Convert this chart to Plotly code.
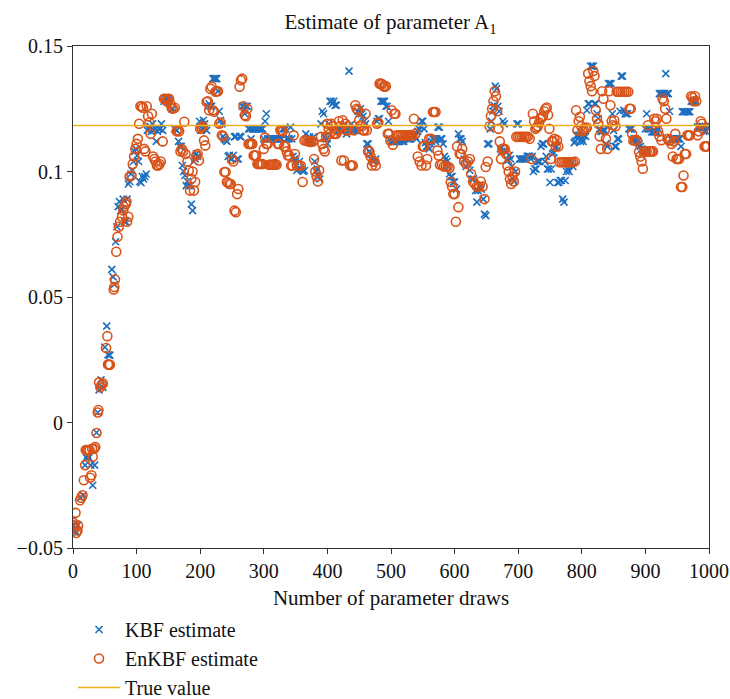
import plotly.graph_objects as go

# Parameter draws and the resulting estimates of A1
kbf_draw = [
    1, 3, 5, 7, 12, 16, 19, 21, 23, 25, 28, 31, 34, 37, 39, 41, 44, 47, 50, 53,
    55, 57, 58, 61, 63, 65, 67, 69, 71, 73, 75, 77, 79, 81, 83, 85, 87, 89, 91, 93,
    95, 97, 99, 101, 103, 105, 107, 109, 111, 113, 115, 117, 119, 121, 123, 125, 127, 129, 131, 133,
    135, 137, 139, 141, 143, 145, 147, 149, 151, 153, 155, 157, 160, 163, 166, 168, 170, 172, 174, 176,
    178, 180, 182, 184, 186, 188, 190, 192, 194, 196, 199, 201, 203, 205, 207, 210, 212, 214, 216, 218,
    220, 222, 224, 226, 228, 230, 232, 234, 236, 238, 240, 242, 244, 246, 248, 250, 252, 254, 256, 258,
    260, 262, 264, 266, 268, 270, 272, 274, 276, 278, 280, 282, 284, 286, 288, 290, 292, 294, 296, 298,
    300, 302, 304, 306, 308, 310, 312, 314, 316, 318, 320, 322, 324, 326, 328, 330, 332, 334, 336, 338,
    340, 342, 344, 346, 348, 350, 352, 354, 356, 358, 360, 362, 364, 366, 368, 370, 372, 374, 376, 378,
    380, 382, 384, 386, 388, 390, 392, 394, 396, 398, 400, 402, 404, 406, 408, 410, 412, 414, 416, 418,
    420, 422, 424, 426, 428, 430, 432, 434, 436, 438, 440, 442, 444, 446, 448, 450, 452, 454, 456, 458,
    460, 462, 464, 466, 468, 470, 472, 474, 476, 478, 480, 482, 484, 486, 488, 490, 492, 494, 496, 498,
    500, 502, 504, 506, 508, 510, 512, 514, 516, 518, 520, 522, 524, 526, 528, 530, 532, 534, 536, 538,
    540, 542, 544, 546, 548, 550, 552, 554, 556, 558, 560, 562, 564, 566, 568, 570, 572, 574, 576, 578,
    580, 582, 584, 586, 588, 590, 592, 594, 596, 598, 600, 603, 606, 608, 610, 612, 615, 618, 621, 624,
    627, 630, 633, 635, 637, 640, 642, 645, 647, 649, 652, 654, 656, 658, 660, 662, 664, 666, 668, 670,
    672, 674, 676, 678, 680, 682, 684, 686, 688, 690, 692, 694, 696, 698, 700, 702, 704, 706, 708, 710,
    712, 714, 716, 718, 720, 722, 724, 726, 728, 730, 732, 734, 736, 738, 740, 742, 744, 746, 748, 750,
    752, 754, 756, 758, 760, 762, 764, 766, 768, 770, 772, 774, 776, 778, 780, 782, 784, 786, 788, 790,
    792, 794, 796, 798, 800, 802, 804, 806, 808, 810, 812, 814, 816, 818, 820, 822, 824, 826, 828, 830,
    832, 834, 836, 838, 840, 842, 844, 846, 848, 850, 852, 854, 856, 858, 860, 862, 864, 866, 868, 870,
    872, 874, 876, 878, 880, 882, 884, 886, 888, 890, 892, 894, 896, 898, 900, 902, 904, 906, 908, 910,
    912, 914, 916, 918, 920, 922, 924, 926, 928, 930, 932, 934, 936, 938, 940, 942, 944, 946, 948, 950,
    952, 954, 956, 958, 960, 962, 964, 966, 968, 970, 972, 974, 976, 978, 980, 982, 984, 986, 988, 990,
    992, 994, 996, 998,
]
kbf_value = [
    -0.041, -0.043, -0.044, -0.041, -0.030, -0.029, -0.017, -0.014, -0.013, -0.014, -0.017, -0.025, -0.017, -0.004, 0.004, 0.013, 0.017, 0.014, 0.030, 0.0384,
    0.027, 0.0268, 0.0268, 0.061, 0.058, 0.055, 0.072, 0.078, 0.086, 0.088, 0.0844, 0.085, 0.089, 0.080, 0.080, 0.089, 0.095, 0.096, 0.099, 0.1004,
    0.104, 0.108, 0.109, 0.1064, 0.104, 0.096, 0.0955, 0.098, 0.097, 0.098, 0.099, 0.1164, 0.117, 0.118, 0.116, 0.119, 0.1164, 0.117, 0.112, 0.116,
    0.117, 0.117, 0.119, 0.1164, 0.128, 0.129, 0.129, 0.128, 0.129, 0.128, 0.125, 0.125, 0.117, 0.1164, 0.112, 0.110, 0.110, 0.1024, 0.100, 0.0984,
    0.0944, 0.096, 0.0944, 0.0944, 0.087, 0.0844, 0.104, 0.105, 0.107, 0.106, 0.120, 0.1164, 0.117, 0.1204, 0.119, 0.1164, 0.126, 0.127, 0.126, 0.126,
    0.137, 0.137, 0.137, 0.137, 0.132, 0.124, 0.1204, 0.119, 0.114, 0.113, 0.1125, 0.112, 0.106, 0.1064, 0.105, 0.105, 0.1064, 0.1138, 0.114, 0.105,
    0.105, 0.114, 0.1138, 0.126, 0.126, 0.123, 0.126, 0.126, 0.117, 0.117, 0.113, 0.117, 0.117, 0.117, 0.117, 0.117, 0.117, 0.117, 0.117, 0.117,
    0.113, 0.120, 0.123, 0.113, 0.113, 0.113, 0.113, 0.113, 0.113, 0.113, 0.113, 0.113, 0.113, 0.113, 0.113, 0.117, 0.117, 0.117, 0.113, 0.113,
    0.113, 0.1177, 0.113, 0.106, 0.105, 0.104, 0.1004, 0.101, 0.104, 0.101, 0.1006, 0.100, 0.1004, 0.115, 0.112, 0.112, 0.1138, 0.112, 0.112, 0.1138,
    0.104, 0.100, 0.101, 0.098, 0.097, 0.119, 0.124, 0.123, 0.1138, 0.113, 0.111, 0.119, 0.128, 0.128, 0.127, 0.128, 0.1264, 0.1264, 0.1164, 0.1164,
    0.1164, 0.1164, 0.1164, 0.118, 0.117, 0.115, 0.1164, 0.140, 0.1164, 0.119, 0.1164, 0.1164, 0.1164, 0.1164, 0.124, 0.123, 0.125, 0.123, 0.122, 0.120,
    0.119, 0.111, 0.111, 0.108, 0.107, 0.1045, 0.104, 0.1045, 0.105, 0.120, 0.121, 0.121, 0.128, 0.128, 0.128, 0.128, 0.126, 0.126, 0.120, 0.113,
    0.112, 0.112, 0.112, 0.113, 0.112, 0.112, 0.112, 0.112, 0.113, 0.112, 0.112, 0.113, 0.114, 0.113, 0.113, 0.113, 0.1144, 0.1144, 0.1144, 0.114,
    0.113, 0.116, 0.117, 0.118, 0.120, 0.120, 0.117, 0.1115, 0.110, 0.110, 0.109, 0.111, 0.112, 0.113, 0.113, 0.112, 0.113, 0.1177, 0.1177, 0.113,
    0.113, 0.111, 0.106, 0.105, 0.104, 0.102, 0.099, 0.098, 0.098, 0.0958, 0.0958, 0.093, 0.115, 0.113, 0.113, 0.112, 0.105, 0.102, 0.103, 0.1005,
    0.097, 0.097, 0.0924, 0.0878, 0.0924, 0.0944, 0.093, 0.089, 0.083, 0.0824, 0.111, 0.111, 0.117, 0.120, 0.124, 0.1264, 0.134, 0.133, 0.126, 0.124,
    0.109, 0.108, 0.120, 0.119, 0.108, 0.1045, 0.1045, 0.1064, 0.105, 0.102, 0.097, 0.096, 0.100, 0.119, 0.119, 0.105, 0.105, 0.105, 0.105, 0.105,
    0.105, 0.106, 0.106, 0.106, 0.105, 0.106, 0.100, 0.101, 0.101, 0.104, 0.104, 0.104, 0.110, 0.111, 0.111, 0.104, 0.106, 0.101, 0.101, 0.0956,
    0.101, 0.107, 0.1075, 0.1095, 0.110, 0.0956, 0.0956, 0.0964, 0.0964, 0.089, 0.0878, 0.0964, 0.100, 0.101, 0.100, 0.104, 0.1035, 0.102, 0.1115, 0.112,
    0.1144, 0.1144, 0.1144, 0.112, 0.113, 0.112, 0.1144, 0.114, 0.1244, 0.127, 0.127, 0.142, 0.142, 0.142, 0.127, 0.127, 0.123, 0.121, 0.117, 0.116,
    0.116, 0.1164, 0.1164, 0.111, 0.110, 0.135, 0.135, 0.135, 0.123, 0.1164, 0.110, 0.110, 0.113, 0.113, 0.124, 0.138, 0.138, 0.1244, 0.123, 0.123,
    0.123, 0.117, 0.117, 0.117, 0.1125, 0.113, 0.113, 0.112, 0.112, 0.111, 0.110, 0.109, 0.108, 0.108, 0.117, 0.123, 0.117, 0.117, 0.117, 0.1158,
    0.1158, 0.1158, 0.1158, 0.1158, 0.117, 0.131, 0.131, 0.131, 0.131, 0.131, 0.139, 0.131, 0.131, 0.124, 0.113, 0.113, 0.113, 0.113, 0.113, 0.113,
    0.113, 0.113, 0.110, 0.1238, 0.1238, 0.1238, 0.1238, 0.1238, 0.1238, 0.1238, 0.128, 0.128, 0.128, 0.128, 0.128, 0.1177, 0.1177, 0.1177, 0.1177, 0.118,
    0.116, 0.118, 0.116, 0.118,
]

enkbf_draw = [
    1, 2, 3, 4, 5, 7, 8, 11, 13, 15, 17, 19, 20, 22, 24, 26, 27, 29, 30, 31,
    33, 35, 37, 39, 40, 41, 43, 45, 47, 52, 54, 55, 56, 57, 58, 64, 65, 66, 68, 70,
    72, 74, 77, 79, 80, 83, 84, 85, 87, 89, 92, 94, 96, 98, 100, 102, 104, 106, 108, 110,
    112, 114, 116, 118, 120, 122, 124, 126, 128, 130, 132, 134, 136, 138, 141, 143, 145, 147, 149, 151,
    153, 155, 157, 160, 163, 165, 167, 169, 171, 173, 175, 177, 180, 182, 184, 186, 188, 190, 192, 194,
    196, 198, 200, 202, 204, 206, 208, 210, 212, 214, 216, 218, 220, 222, 224, 226, 228, 230, 232, 234,
    236, 238, 240, 242, 244, 246, 248, 250, 252, 254, 256, 258, 260, 262, 264, 266, 268, 270, 272, 274,
    276, 278, 280, 282, 284, 286, 288, 290, 292, 294, 296, 298, 300, 302, 304, 306, 308, 310, 312, 314,
    316, 318, 320, 322, 324, 326, 328, 330, 332, 334, 336, 338, 340, 343, 345, 347, 349, 352, 355, 358,
    361, 364, 367, 370, 372, 374, 377, 379, 381, 383, 385, 387, 390, 392, 394, 396, 398, 400, 402, 404,
    406, 408, 410, 412, 414, 416, 418, 420, 422, 424, 426, 428, 430, 432, 434, 436, 438, 440, 442, 444,
    446, 448, 450, 452, 454, 456, 458, 460, 462, 464, 466, 468, 470, 472, 474, 476, 478, 480, 482, 484,
    486, 488, 490, 492, 495, 497, 499, 501, 503, 505, 507, 509, 512, 515, 518, 521, 524, 527, 530, 533,
    536, 538, 542, 545, 548, 550, 552, 555, 557, 560, 563, 566, 568, 570, 573, 575, 577, 580, 583, 586,
    589, 592, 594, 596, 598, 600, 602, 604, 606, 608, 610, 612, 615, 618, 621, 624, 626, 629, 632, 635,
    638, 641, 644, 647, 649, 652, 655, 657, 659, 661, 663, 665, 667, 669, 671, 673, 675, 677, 679, 681,
    683, 685, 687, 689, 691, 693, 695, 697, 700, 703, 706, 709, 712, 715, 718, 721, 723, 725, 727, 729,
    731, 733, 735, 737, 739, 741, 743, 745, 747, 749, 751, 753, 755, 757, 759, 761, 763, 765, 768, 771,
    774, 777, 780, 783, 786, 789, 791, 793, 795, 797, 799, 801, 803, 806, 808, 810, 812, 814, 816, 818,
    820, 822, 824, 826, 828, 830, 832, 834, 836, 838, 840, 843, 845, 847, 849, 851, 853, 855, 858, 861,
    864, 867, 870, 873, 875, 877, 879, 881, 884, 887, 890, 892, 894, 896, 898, 900, 902, 904, 906, 908,
    910, 912, 914, 916, 918, 920, 922, 925, 927, 929, 931, 933, 935, 937, 939, 941, 943, 945, 947, 949,
    951, 953, 956, 958, 960, 962, 964, 966, 968, 970, 972, 974, 976, 978, 980, 982, 984, 987, 989, 991,
    993, 995, 997,
]
enkbf_value = [
    -0.040, -0.041, -0.042, -0.036, -0.044, -0.043, -0.041, -0.031, -0.030, -0.029, -0.023, -0.017, -0.011, -0.011, -0.011, -0.011, -0.022, -0.021, -0.0105, -0.0136,
    -0.0105, -0.0098, -0.0042, 0.004, 0.005, 0.016, 0.014, 0.015, 0.0155, 0.0297, 0.0344, 0.0231, 0.0231, 0.023, 0.023, 0.053, 0.054, 0.057, 0.068, 0.074,
    0.078, 0.080, 0.082, 0.0845, 0.086, 0.087, 0.088, 0.080, 0.082, 0.098, 0.0984, 0.103, 0.106, 0.109, 0.111, 0.113, 0.119, 0.126, 0.126, 0.1254,
    0.109, 0.108, 0.126, 0.122, 0.1195, 0.115, 0.123, 0.106, 0.105, 0.104, 0.1024, 0.1024, 0.103, 0.104, 0.112, 0.129, 0.129, 0.128, 0.129, 0.129,
    0.127, 0.1254, 0.125, 0.1254, 0.116, 0.1164, 0.116, 0.108, 0.109, 0.108, 0.1198, 0.107, 0.104, 0.1004, 0.0924, 0.097, 0.100, 0.0924, 0.0958, 0.1064,
    0.107, 0.1044, 0.117, 0.1175, 0.118, 0.1124, 0.1104, 0.1277, 0.128, 0.1244, 0.133, 0.1338, 0.1244, 0.1238, 0.1318, 0.132, 0.132, 0.119, 0.1195, 0.1144,
    0.114, 0.0998, 0.0998, 0.0958, 0.0955, 0.095, 0.095, 0.105, 0.104, 0.0844, 0.0838, 0.091, 0.093, 0.1338, 0.1364, 0.137, 0.126, 0.1224, 0.122, 0.125,
    0.111, 0.111, 0.111, 0.111, 0.1064, 0.1064, 0.1064, 0.103, 0.103, 0.103, 0.103, 0.103, 0.109, 0.1135, 0.111, 0.111, 0.1027, 0.1027, 0.1027, 0.1027,
    0.1027, 0.103, 0.1027, 0.111, 0.111, 0.1164, 0.1164, 0.116, 0.110, 0.110, 0.108, 0.1064, 0.1064, 0.1024, 0.1024, 0.1144, 0.107, 0.1024, 0.1024, 0.1024,
    0.0958, 0.1124, 0.1124, 0.112, 0.112, 0.1118, 0.112, 0.105, 0.100, 0.098, 0.096, 0.1005, 0.1138, 0.111, 0.109, 0.108, 0.1138, 0.119, 0.117, 0.115,
    0.119, 0.118, 0.115, 0.115, 0.115, 0.1164, 0.120, 0.118, 0.1044, 0.1204, 0.1044, 0.119, 0.1164, 0.118, 0.1164, 0.1024, 0.1024, 0.1024, 0.1164, 0.1264,
    0.125, 0.1245, 0.1204, 0.1184, 0.118, 0.1164, 0.1164, 0.123, 0.1164, 0.108, 0.108, 0.106, 0.1024, 0.104, 0.104, 0.1024, 0.119, 0.1195, 0.135, 0.135,
    0.1348, 0.134, 0.1338, 0.134, 0.115, 0.115, 0.1124, 0.1244, 0.1107, 0.123, 0.123, 0.1144, 0.1144, 0.1144, 0.1144, 0.1144, 0.1144, 0.1144, 0.1144, 0.1144,
    0.121, 0.115, 0.106, 0.104, 0.1024, 0.110, 0.110, 0.1024, 0.105, 0.113, 0.113, 0.1237, 0.1237, 0.1237, 0.1084, 0.1064, 0.1027, 0.1027, 0.102, 0.102,
    0.102, 0.1015, 0.0958, 0.094, 0.091, 0.091, 0.080, 0.110, 0.0858, 0.107, 0.107, 0.109, 0.104, 0.103, 0.104, 0.105, 0.099, 0.096, 0.095, 0.094,
    0.094, 0.096, 0.094, 0.089, 0.1018, 0.104, 0.118, 0.122, 0.125, 0.128, 0.132, 0.130, 0.124, 0.117, 0.112, 0.105, 0.109, 0.109, 0.109, 0.107,
    0.1024, 0.100, 0.097, 0.095, 0.098, 0.096, 0.100, 0.1138, 0.1138, 0.1138, 0.1138, 0.1138, 0.1138, 0.1138, 0.113, 0.105, 0.123, 0.120, 0.117, 0.1175,
    0.118, 0.1195, 0.121, 0.1215, 0.122, 0.124, 0.125, 0.1255, 0.1225, 0.117, 0.105, 0.112, 0.112, 0.113, 0.110, 0.1125, 0.110, 0.1037, 0.1037, 0.1037,
    0.1037, 0.1037, 0.1037, 0.1037, 0.1037, 0.104, 0.1244, 0.1164, 0.120, 0.1218, 0.118, 0.116, 0.1165, 0.117, 0.1175, 0.139, 0.136, 0.134, 0.132, 0.140,
    0.138, 0.1244, 0.121, 0.119, 0.114, 0.109, 0.132, 0.129, 0.1164, 0.113, 0.109, 0.132, 0.1264, 0.120, 0.1184, 0.1204, 0.118, 0.1318, 0.1318, 0.1318,
    0.1318, 0.1318, 0.1318, 0.1318, 0.125, 0.125, 0.115, 0.1124, 0.1124, 0.1124, 0.1078, 0.106, 0.104, 0.1011, 0.108, 0.108, 0.108, 0.1184, 0.108, 0.108,
    0.108, 0.108, 0.121, 0.120, 0.121, 0.116, 0.114, 0.1125, 0.129, 0.128, 0.125, 0.121, 0.113, 0.1124, 0.1124, 0.111, 0.106, 0.112, 0.115, 0.105,
    0.105, 0.105, 0.0938, 0.0938, 0.0984, 0.107, 0.107, 0.1144, 0.1144, 0.1144, 0.130, 0.1295, 0.128, 0.130, 0.128, 0.1144, 0.116, 0.120, 0.119, 0.117,
    0.110, 0.110, 0.110,
]

true_draw = [0, 1000]
true_value = [0.1183, 0.1183]

KBF_COLOR = "#1f6fbf"
ENKBF_COLOR = "#d95319"
TRUE_COLOR = "#edb120"
FONT = "Liberation Serif"

fig = go.Figure()
fig.add_trace(go.Scatter(
    x=kbf_draw, y=kbf_value, mode="markers", name="KBF estimate",
    legendgroup="kbf",
    marker=dict(symbol="x-thin-open", size=7, color=KBF_COLOR,
                line=dict(color=KBF_COLOR, width=1.6)),
))
fig.add_trace(go.Scatter(
    x=enkbf_draw, y=enkbf_value, mode="markers", name="EnKBF estimate",
    legendgroup="enkbf",
    marker=dict(symbol="circle-open", size=9, color=ENKBF_COLOR,
                line=dict(color=ENKBF_COLOR, width=1.6)),
))
fig.add_trace(go.Scatter(
    x=true_draw, y=true_value, mode="lines", name="True value",
    legendgroup="true",
    line=dict(color=TRUE_COLOR, width=1.5),
))

axis_common = dict(
    showgrid=False, zeroline=False, showline=True, mirror=True,
    linecolor="#333333", linewidth=1.2, automargin=False,
    ticks="outside", ticklen=5, tickcolor="#333333", tickwidth=1,
    tickfont=dict(family=FONT, size=20, color="#111111"),
)

fig.update_layout(
    width=730, height=699,
    margin=dict(l=73, r=21, t=46, b=151, autoexpand=False),
    paper_bgcolor="white", plot_bgcolor="white",
    font=dict(family=FONT, size=20, color="#111111"),
    title=dict(text="Estimate of parameter A<sub>1</sub>", x=0.535, xanchor="center",
               y=1 - 22 / 699, yanchor="middle", font=dict(family=FONT, size=21)),
    xaxis=dict(range=[0, 1000], dtick=100,
               title=dict(text="Number of parameter draws", standoff=14,
                          font=dict(family=FONT, size=21)),
               **axis_common),
    yaxis=dict(range=[-0.05, 0.15], dtick=0.05, **axis_common),
    showlegend=True,
    legend=dict(x=0.0, xanchor="left", yref="container", y=1 - 610 / 699, yanchor="top",
                font=dict(family=FONT, size=20), tracegroupgap=0,
                itemwidth=42, bgcolor="rgba(0,0,0,0)"),
)

fig.write_html("out.html")
